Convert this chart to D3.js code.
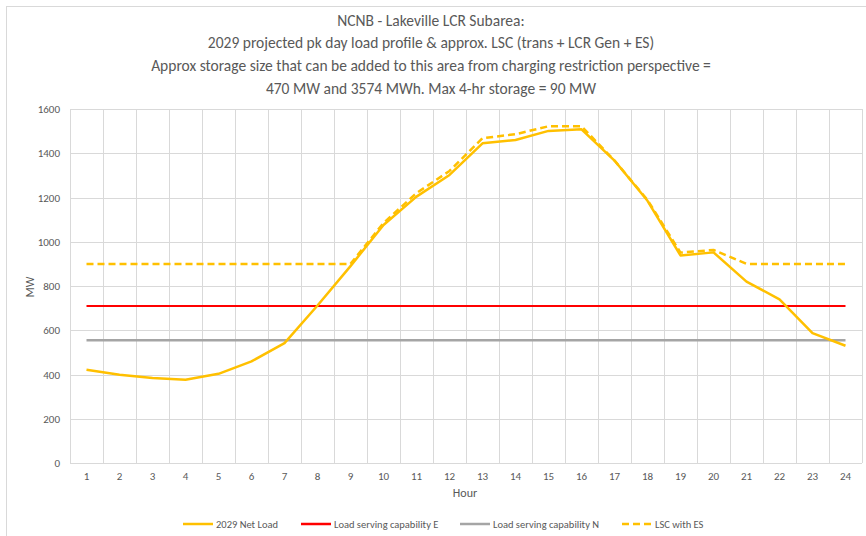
<!DOCTYPE html>
<html>
<head>
<meta charset="utf-8">
<script src="https://cdn.jsdelivr.net/npm/d3@7"></script>
<style>
  html, body { margin: 0; padding: 0; background: #fff; }
  svg { display: block; }
  text { font-family: Carlito, "Liberation Sans Narrow", "Arial Narrow", "Liberation Sans", sans-serif; fill: #595959; }
</style>
</head>
<body>
<svg id="chart" width="866" height="536"></svg>
<script>
const hours = ["1","2","3","4","5","6","7","8","9","10","11","12","13","14","15","16","17","18","19","20","21","22","23","24"];
const netLoad = [421, 399, 384, 376, 403, 459, 542, 712, 890, 1076, 1204, 1302, 1445, 1460, 1501, 1508, 1367, 1185, 938, 952, 820, 740, 587, 530];
const lscE = [710, 710, 710, 710, 710, 710, 710, 710, 710, 710, 710, 710, 710, 710, 710, 710, 710, 710, 710, 710, 710, 710, 710, 710];
const lscN = [555, 555, 555, 555, 555, 555, 555, 555, 555, 555, 555, 555, 555, 555, 555, 555, 555, 555, 555, 555, 555, 555, 555, 555];
const lscES = [900, 900, 900, 900, 900, 900, 900, 900, 900, 1085, 1220, 1320, 1468, 1486, 1522, 1522, 1367, 1189, 951, 963, 900, 900, 900, 900];
const yTicks = [0, 200, 400, 600, 800, 1000, 1200, 1400, 1600];
const titleLines = [
  "NCNB - Lakeville LCR Subarea:",
  "2029 projected pk day load profile & approx. LSC (trans + LCR Gen + ES)",
  "Approx storage size that can be added to this area from charging restriction perspective =",
  "470 MW and 3574 MWh. Max 4-hr storage = 90 MW"
];
const seriesNames = ["2029 Net Load", "Load serving capability E", "Load serving capability N", "LSC with ES"];

(function () {
const svg = d3.select("#chart");
const pL = 70, pR = 862, pT = 109, pB = 463;
const FONT = 'Carlito, "Liberation Sans Narrow", "Arial Narrow", "Liberation Sans", sans-serif';

// outer border
svg.append("rect").attr("x", 6.5).attr("y", 6.5).attr("width", 870).attr("height", 540)
  .attr("fill", "none").attr("stroke", "#D9D9D9").attr("stroke-width", 1);

const x = d3.scaleBand().domain(hours).range([pL, pR]).padding(0);
const y = d3.scaleLinear().domain([0, 1600]).range([pB, pT]);
const cx = h => x(h) + x.bandwidth() / 2;

// horizontal grid
svg.append("g").selectAll("line").data(yTicks.filter(t => t > 0)).join("line")
  .attr("x1", pL).attr("x2", pR)
  .attr("y1", d => Math.round(y(d)) + 0.5).attr("y2", d => Math.round(y(d)) + 0.5)
  .attr("stroke", "#D9D9D9").attr("stroke-width", 1);

// vertical grid at category boundaries
const bounds = hours.map(h => x(h)).concat([pR]);
svg.append("g").selectAll("line").data(bounds).join("line")
  .attr("x1", d => Math.round(d) + 0.5).attr("x2", d => Math.round(d) + 0.5)
  .attr("y1", pT).attr("y2", pB)
  .attr("stroke", "#D9D9D9").attr("stroke-width", 1);

// bottom axis line
svg.append("line").attr("x1", pL).attr("x2", pR)
  .attr("y1", Math.round(pB) + 0.5).attr("y2", Math.round(pB) + 0.5)
  .attr("stroke", "#D9D9D9").attr("stroke-width", 1);

// y axis labels
const yAxis = d3.axisLeft(y).tickValues(yTicks).tickFormat(d3.format("d")).tickSize(0).tickPadding(10);
const ga = svg.append("g").attr("transform", `translate(${pL},0)`).call(yAxis);
ga.select(".domain").remove();
ga.selectAll("text").attr("font-size", 11).style("fill", "#595959").style("font-family", FONT);

// x axis labels
const xAxis = d3.axisBottom(x).tickSize(0).tickPadding(9);
const gx = svg.append("g").attr("transform", `translate(0,${pB})`).call(xAxis);
gx.select(".domain").remove();
gx.selectAll("text").attr("font-size", 11).style("fill", "#595959").style("font-family", FONT);

// axis titles
svg.append("text").attr("x", 465).attr("y", 497).attr("text-anchor", "middle")
  .attr("font-size", 12).text("Hour");
svg.append("text").attr("transform", "translate(34,287) rotate(-90)").attr("text-anchor", "middle")
  .attr("font-size", 12).text("MW");

// title
svg.append("g").selectAll("text").data(titleLines).join("text")
  .attr("x", 431).attr("y", (d, i) => 25.5 + i * 22.7)
  .attr("text-anchor", "middle").attr("font-size", 15.5)
  .text(d => d);

// lines
const line = d3.line().x((d, i) => cx(hours[i])).y(d => y(d));
const series = [
  { data: lscN, color: "#A5A5A5", width: 2.5, dash: null },
  { data: lscE, color: "#FF0000", width: 2, dash: null },
  { data: netLoad, color: "#FFC000", width: 2.5, dash: null },
  { data: lscES, color: "#FFC000", width: 2.5, dash: "7,4" }
];
svg.append("g").selectAll("path").data(series).join("path")
  .attr("d", s => line(s.data))
  .attr("fill", "none")
  .attr("stroke", s => s.color)
  .attr("stroke-width", s => s.width)
  .attr("stroke-dasharray", s => s.dash)
  .attr("stroke-linejoin", "round");

// legend
const legend = [
  { name: seriesNames[0], color: "#FFC000", dash: null, x: 183 },
  { name: seriesNames[1], color: "#FF0000", dash: null, x: 301 },
  { name: seriesNames[2], color: "#A5A5A5", dash: null, x: 460 },
  { name: seriesNames[3], color: "#FFC000", dash: "7,4", x: 622 }
];
const lg = svg.append("g").selectAll("g").data(legend).join("g")
  .attr("transform", d => `translate(${d.x},524)`);
lg.append("line").attr("x1", 0).attr("x2", 30).attr("y1", 0).attr("y2", 0)
  .attr("stroke", d => d.color).attr("stroke-width", 2.5).attr("stroke-dasharray", d => d.dash);
lg.append("text").attr("x", 33).attr("y", 4).attr("font-size", 10.5).text(d => d.name);
})();
</script>
</body>
</html>
